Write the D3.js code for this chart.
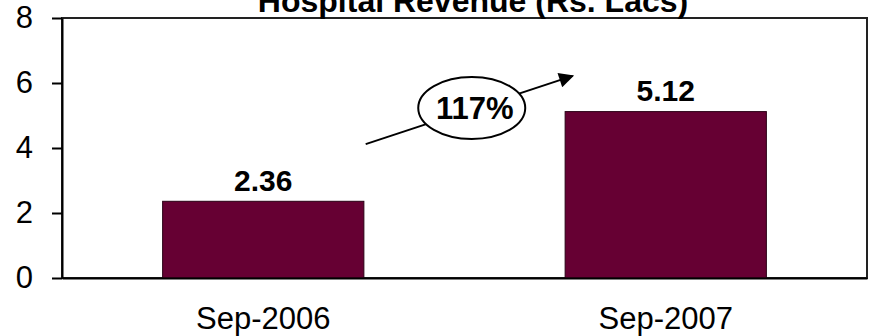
<!DOCTYPE html>
<html>
<head>
<meta charset="utf-8">
<script src="https://cdn.jsdelivr.net/npm/d3@7"></script>
<style>
  html, body { margin: 0; padding: 0; background: #fff; }
  svg { display: block; font-family: "Liberation Sans", Arial, sans-serif; }
</style>
</head>
<body>
<svg id="chart" width="870" height="336"></svg>
<script>
// Hospital revenue by period (Rs. Lacs)
const categories = ["Sep-2006", "Sep-2007"];
const revenue = [2.36, 5.12];
const yTicks = [0, 2, 4, 6, 8];
const chartTitle = "Hospital Revenue (Rs. Lacs)";

const W = 870, H = 336;
const margin = { top: 18, right: 3, bottom: 58, left: 62 };
const innerW = W - margin.left - margin.right;
const innerH = H - margin.top - margin.bottom;

const svg = d3.select("#chart");
const g = svg.append("g").attr("transform", `translate(${margin.left},${margin.top})`);

const x = d3.scaleBand().domain(categories).range([0, innerW])
  .paddingInner(0.5).paddingOuter(0.25);
const y = d3.scaleLinear().domain([0, 8]).range([innerH, 0]);
// continuous position across the categories, for the growth annotation
const xi = d3.scaleLinear().domain([0, categories.length]).range([0, innerW]);

// plot frame
g.append("rect")
  .attr("x", 0).attr("y", 0)
  .attr("width", innerW).attr("height", innerH)
  .attr("fill", "none").attr("stroke", "#222").attr("stroke-width", 2);

// bars
g.selectAll("rect.bar").data(revenue).join("rect")
  .attr("class", "bar")
  .attr("x", (d, i) => x(categories[i]))
  .attr("y", d => y(d))
  .attr("width", x.bandwidth())
  .attr("height", d => y(0) - y(d))
  .attr("fill", "#660033")
  .attr("stroke", "#2a0015").attr("stroke-width", 1);

// value labels
g.selectAll("text.val").data(revenue).join("text")
  .attr("class", "val")
  .attr("x", (d, i) => x(categories[i]) + x.bandwidth() / 2)
  .attr("y", d => y(d) - 10.5)
  .attr("text-anchor", "middle")
  .attr("font-size", 30).attr("font-weight", "bold").attr("fill", "#000")
  .text(d => d.toFixed(2));

// y axis
const yAxis = g.append("g")
  .call(d3.axisLeft(y).tickValues(yTicks).tickSize(10).tickPadding(19).tickSizeOuter(0));
yAxis.select(".domain").attr("stroke", "#000").attr("stroke-width", 2);
yAxis.selectAll(".tick line").attr("stroke", "#000").attr("stroke-width", 2);
yAxis.selectAll(".tick text").attr("font-size", 31).attr("font-family", "Liberation Sans, Arial, sans-serif").attr("fill", "#000");

// x axis
const xAxis = g.append("g").attr("transform", `translate(0,${innerH})`)
  .call(d3.axisBottom(x).tickSize(0).tickPadding(29).tickSizeOuter(0));
xAxis.select(".domain").attr("stroke", "#000").attr("stroke-width", 2);
xAxis.selectAll(".tick text").attr("font-size", 31).attr("font-family", "Liberation Sans, Arial, sans-serif").attr("fill", "#000");

// title
svg.append("text")
  .attr("x", 473).attr("y", 12)
  .attr("text-anchor", "middle")
  .attr("font-size", 32).attr("font-weight", "bold").attr("fill", "#000")
  .text(chartTitle);

// growth annotation: arrow with percentage badge
const growth = Math.round((revenue[1] - revenue[0]) / revenue[0] * 100);
const arrowFrom = { i: 0.7545, v: 4.12 };
const arrowTo = { i: 1.2688, v: 6.22 };
const badge = { i: 1.018, v: 5.23 };

const defs = svg.append("defs");
defs.append("marker")
  .attr("id", "arrowhead")
  .attr("viewBox", "0 0 10 10")
  .attr("refX", 9).attr("refY", 5)
  .attr("markerUnits", "userSpaceOnUse")
  .attr("markerWidth", 19).attr("markerHeight", 15)
  .attr("orient", "auto")
  .append("path").attr("d", "M0,0 L10,5 L0,10 Z").attr("fill", "#000");

g.append("line")
  .attr("x1", xi(arrowFrom.i)).attr("y1", y(arrowFrom.v))
  .attr("x2", xi(arrowTo.i)).attr("y2", y(arrowTo.v))
  .attr("stroke", "#000").attr("stroke-width", 2)
  .attr("marker-end", "url(#arrowhead)");

g.append("ellipse")
  .attr("cx", xi(badge.i)).attr("cy", y(badge.v))
  .attr("rx", 53.5).attr("ry", 31)
  .attr("fill", "#fff").attr("stroke", "#000").attr("stroke-width", 2);

g.append("text")
  .attr("x", xi(badge.i) + 3).attr("y", y(badge.v))
  .attr("dy", "0.36em")
  .attr("text-anchor", "middle")
  .attr("font-size", 31).attr("font-weight", "bold").attr("fill", "#000")
  .text(growth + "%");
</script>
</body>
</html>
